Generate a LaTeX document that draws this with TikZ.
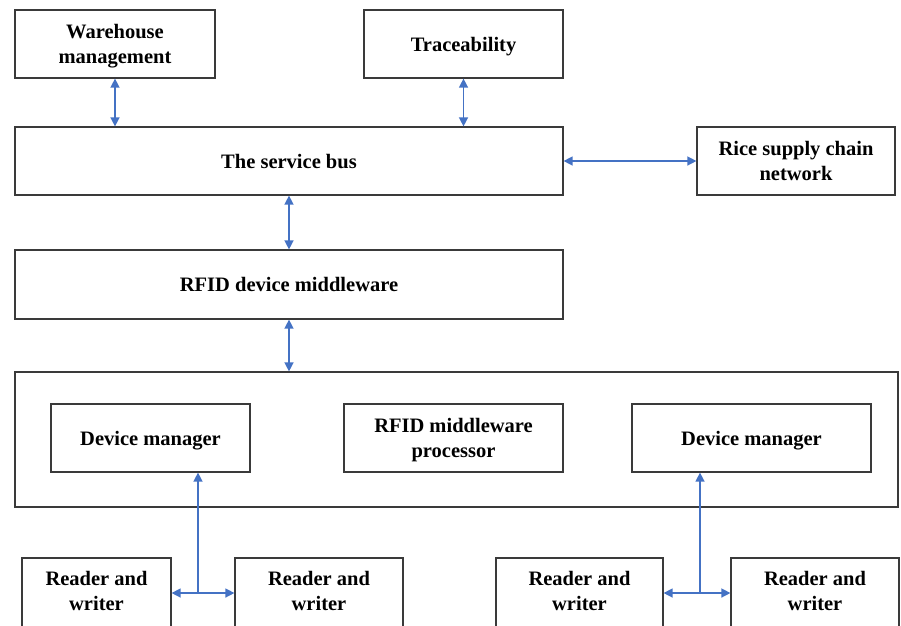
\documentclass[tikz,border=0pt]{standalone}
\usepackage{fontspec}
\setmainfont{Liberation Serif}[BoldFont={Liberation Serif Bold}]
\usetikzlibrary{arrows.meta}
\definecolor{boxline}{HTML}{3A3A3A}
\definecolor{arrowblue}{HTML}{4472C4}
\begin{document}
\begin{tikzpicture}[x=1pt,y=-1pt,
  blk/.style={draw=boxline,line width=1.2pt,inner sep=0pt,align=center,text depth=0pt,
    font=\fontsize{20.5}{25}\selectfont\bfseries},
  rwbox/.style={blk,minimum height=70pt,text depth=4pt},
  link/.style={draw=arrowblue,line width=1.4pt,{Triangle[length=9pt,width=9pt]}-{Triangle[length=9pt,width=9pt]}},
  uplink/.style={draw=arrowblue,line width=1.4pt,-{Triangle[length=9pt,width=9pt]}}
]
\useasboundingbox (0,0) rectangle (901,625);
\clip (0,0) rectangle (901,625);
\node[blk,minimum width=200pt,minimum height=68pt] (wh) at (115,44) {Warehouse\\management};
\node[blk,minimum width=199pt,minimum height=68pt] (tr) at (463.5,44) {Traceability};
\node[blk,minimum width=548pt,minimum height=68pt] (bus) at (289,161) {The service bus};
\node[blk,minimum width=198pt,minimum height=68pt] (rice) at (796,161) {Rice supply chain\\network};
\node[blk,minimum width=548pt,minimum height=69pt] (mw) at (289,284.5) {RFID device middleware};
\node[blk,minimum width=883pt,minimum height=135pt] (outer) at (456.5,439.5) {};
\node[blk,minimum width=199pt,minimum height=68pt] (dm1) at (150.5,438) {Device manager};
\node[blk,minimum width=219pt,minimum height=68pt] (proc) at (453.5,438) {RFID middleware\\processor};
\node[blk,minimum width=239pt,minimum height=68pt] (dm2) at (751.5,438) {Device manager};
\node[rwbox,minimum width=149pt] (r1) at (96.5,593) {Reader and\\writer};
\node[rwbox,minimum width=168pt] (r2) at (319,593) {Reader and\\writer};
\node[rwbox,minimum width=167pt] (r3) at (579.5,593) {Reader and\\writer};
\node[rwbox,minimum width=168pt] (r4) at (815,593) {Reader and\\writer};
\coordinate (j1) at (198,593);
\coordinate (j2) at (700,593);
\draw[link] (wh.south) -- (wh.south |- bus.north);
\draw[link] (tr.south) -- (tr.south |- bus.north);
\draw[link] (bus.east) -- (rice.west);
\draw[link] (bus.south) -- (mw.north);
\draw[link] (mw.south) -- (mw.south |- outer.north);
\draw[link] (r1.east) -- (r2.west);
\draw[link] (r3.east) -- (r4.west);
\draw[uplink] (j1) -- (j1 |- dm1.south);
\draw[uplink] (j2) -- (j2 |- dm2.south);
\end{tikzpicture}
\end{document}
